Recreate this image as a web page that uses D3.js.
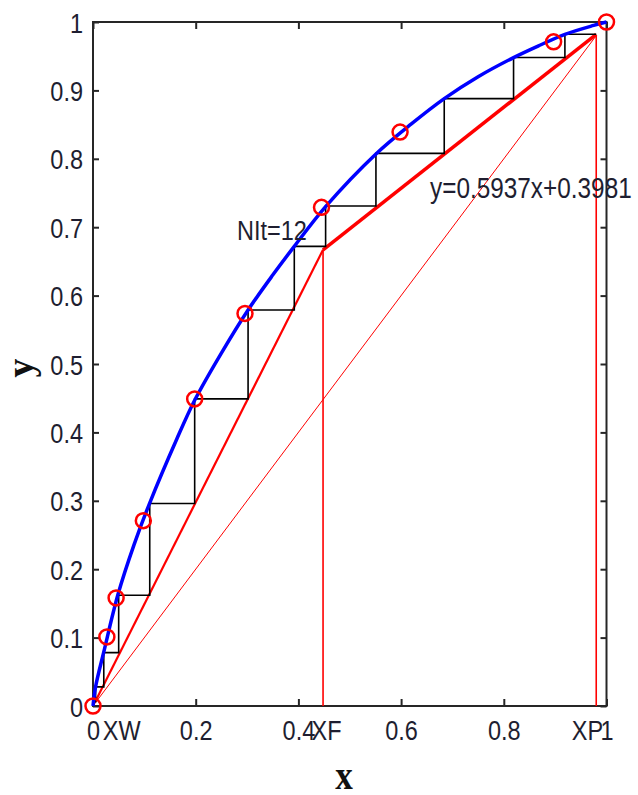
<!DOCTYPE html>
<html>
<head>
<meta charset="utf-8">
<script src="https://cdn.jsdelivr.net/npm/d3@7"></script>
<style>
  html, body { margin: 0; padding: 0; background: #fff; }
  svg { display: block; }
  .tick text, .lbl { font-family: "Liberation Sans", Arial, sans-serif; font-size: 28px; fill: #1e1e30; }
</style>
</head>
<body>
<svg id="chart" width="638" height="795"></svg>
<script>
// Experimental equilibrium data (red circles)
const eqX = [0, 0.027, 0.045, 0.098, 0.198, 0.296, 0.445, 0.598, 0.897, 1.0];
const eqY = [0, 0.101, 0.158, 0.271, 0.449, 0.574, 0.729, 0.839, 0.971, 1.0];

// Fitted equilibrium curve (blue)
const curveX = [0, 0.005, 0.021, 0.049, 0.080, 0.110, 0.163, 0.198, 0.250, 0.302, 0.350, 0.392, 0.453, 0.551, 0.620, 0.684, 0.750, 0.819, 0.870, 0.919, 0.975, 1.0];
const curveY = [0, 0.028, 0.079, 0.164, 0.236, 0.296, 0.390, 0.447, 0.516, 0.579, 0.630, 0.672, 0.730, 0.807, 0.851, 0.888, 0.920, 0.948, 0.966, 0.982, 0.995, 1.0];

// McCabe-Thiele staircase corners
const stepX = [0.980, 0.919, 0.819, 0.684, 0.551, 0.453, 0.392, 0.302, 0.198, 0.1105, 0.050, 0.021, 0.005];
const stepY = [0.982, 0.948, 0.888, 0.808, 0.731, 0.672, 0.579, 0.449, 0.296, 0.162, 0.078, 0.028, 0.005];

// Key compositions
const XP = 0.98, XF = 0.448, XW = 0.004;
const qIntersectY = 0.667;
const rectLineX = [XP, XF], rectLineY = [0.982, qIntersectY];
const stripLineX = [XF, XW], stripLineY = [qIntersectY, 0.006];
const diagX = [0, XP], diagY = [0, XP];

// Axis ticks
const xTicks = [0, 0.2, 0.4, 0.6, 0.8, 1];
const xTickLabels = ["0", "0.2", "0.4", "0.6", "0.8", "1"];
const yTicks = [0, 0.1, 0.2, 0.3, 0.4, 0.5, 0.6, 0.7, 0.8, 0.9, 1];
const yTickLabels = ["0", "0.1", "0.2", "0.3", "0.4", "0.5", "0.6", "0.7", "0.8", "0.9", "1"];
const extraXLabels = ["XW", "XF", "XP"];
const extraXPos = [0.056, 0.455, 0.963];

const NARROW = 0.84;
const svg = d3.select("#chart");
const x = d3.scaleLinear().domain([0, 1]).range([93, 606.5]);
const y = d3.scaleLinear().domain([0, 1]).range([706, 22]);
const L = (xs, ys) => d3.zip(xs, ys);
const line = d3.line().x(d => x(d[0])).y(d => y(d[1]));

// Axes
const gx = svg.append("g").attr("transform", `translate(0,${y(0)})`)
  .call(d3.axisBottom(x).tickValues(xTicks).tickFormat((d, i) => xTickLabels[i]).tickSizeInner(-7).tickSizeOuter(0).tickPadding(14));
const gxt = svg.append("g").attr("transform", `translate(0,${y(1)})`)
  .call(d3.axisTop(x).tickValues(xTicks).tickFormat("").tickSizeInner(-7).tickSizeOuter(0));
const gy = svg.append("g").attr("transform", `translate(${x(0)},0)`)
  .call(d3.axisLeft(y).tickValues(yTicks).tickFormat((d, i) => yTickLabels[i]).tickSizeInner(-6).tickSizeOuter(0).tickPadding(10 / NARROW));
const gyr = svg.append("g").attr("transform", `translate(${x(1)},0)`)
  .call(d3.axisRight(y).tickValues(yTicks).tickFormat("").tickSizeInner(-6).tickSizeOuter(0));
[gx, gxt, gy, gyr].forEach(g => {
  g.select(".domain").remove();
  g.selectAll(".tick line").attr("stroke", "#262626").attr("stroke-width", 2);
  g.selectAll(".tick text").attr("transform", `scale(${NARROW},1)`);
});
gy.selectAll(".tick text").attr("dy", "0.36em");

svg.append("rect").attr("x", x(0)).attr("y", y(1)).attr("width", x(1) - x(0)).attr("height", y(0) - y(1))
  .attr("fill", "none").attr("stroke", "#262626").attr("stroke-width", 2);

function narrowText(px, py, txt, opts = {}) {
  const g = svg.append("g").attr("transform", `translate(${px},${py})`);
  const t = g.append("text").attr("class", "lbl").attr("transform", `scale(${opts.sx || NARROW},${opts.sy || 1})`)
    .attr("text-anchor", opts.anchor || "start").text(txt);
  if (opts.dy) t.attr("dy", opts.dy);
  if (opts.size) t.style("font-size", opts.size);
  return t;
}

// extra x labels
extraXLabels.forEach((d, i) => narrowText(x(extraXPos[i]), y(0) + 14, d, { anchor: "middle", dy: "0.71em" }));

// diagonal y=x
svg.append("path").attr("d", line(L(diagX, diagY))).attr("fill", "none").attr("stroke", "#ff0000").attr("stroke-width", 1);
// vertical lines at XF and XP
svg.append("path").attr("d", line([[XF, 0], [XF, qIntersectY]])).attr("fill", "none").attr("stroke", "#ff0000").attr("stroke-width", 1.6);
svg.append("path").attr("d", line([[XP, 0], [XP, XP]])).attr("fill", "none").attr("stroke", "#ff0000").attr("stroke-width", 1.6);
// stripping line
svg.append("path").attr("d", line(L(stripLineX, stripLineY))).attr("fill", "none").attr("stroke", "#ff0000").attr("stroke-width", 2.2);
// rectifying line
svg.append("path").attr("d", line(L(rectLineX, rectLineY))).attr("fill", "none").attr("stroke", "#ff0000").attr("stroke-width", 3.5);

// staircase
const stairs = [[stepX[0], stepY[0]]];
for (let i = 1; i < stepX.length; i++) {
  stairs.push([stepX[i], stepY[i - 1]]);
  stairs.push([stepX[i], stepY[i]]);
}
svg.append("path").attr("d", line(stairs)).attr("fill", "none").attr("stroke", "#000").attr("stroke-width", 1.6);

// equilibrium curve
svg.append("path").attr("d", d3.line().x(d => x(d[0])).y(d => y(d[1])).curve(d3.curveCatmullRom.alpha(0.5))(L(curveX, curveY)))
  .attr("fill", "none").attr("stroke", "#0000ff").attr("stroke-width", 3.5);

// data circles
svg.selectAll(".pt").data(L(eqX, eqY)).enter().append("circle")
  .attr("cx", d => x(d[0])).attr("cy", d => y(d[1])).attr("r", 7.5)
  .attr("fill", "none").attr("stroke", "#ff0000").attr("stroke-width", 2.5);

// annotations
narrowText(237, 240, "NIt=12");
narrowText(430, 198, "y=0.5937x+0.3981", { size: "29px" });

// axis labels
svg.append("text").attr("transform", "translate(344,789) scale(0.88,1.05)").attr("text-anchor", "middle")
  .attr("font-family", "Liberation Serif, serif").attr("font-weight", "bold").attr("font-size", "40px").attr("fill", "#111").text("x");
svg.append("text").attr("transform", "translate(33,368) rotate(-90)").attr("text-anchor", "middle")
  .attr("font-family", "Liberation Serif, serif").attr("font-weight", "bold").attr("font-size", "38px").attr("fill", "#111").text("y");
</script>
</body>
</html>
